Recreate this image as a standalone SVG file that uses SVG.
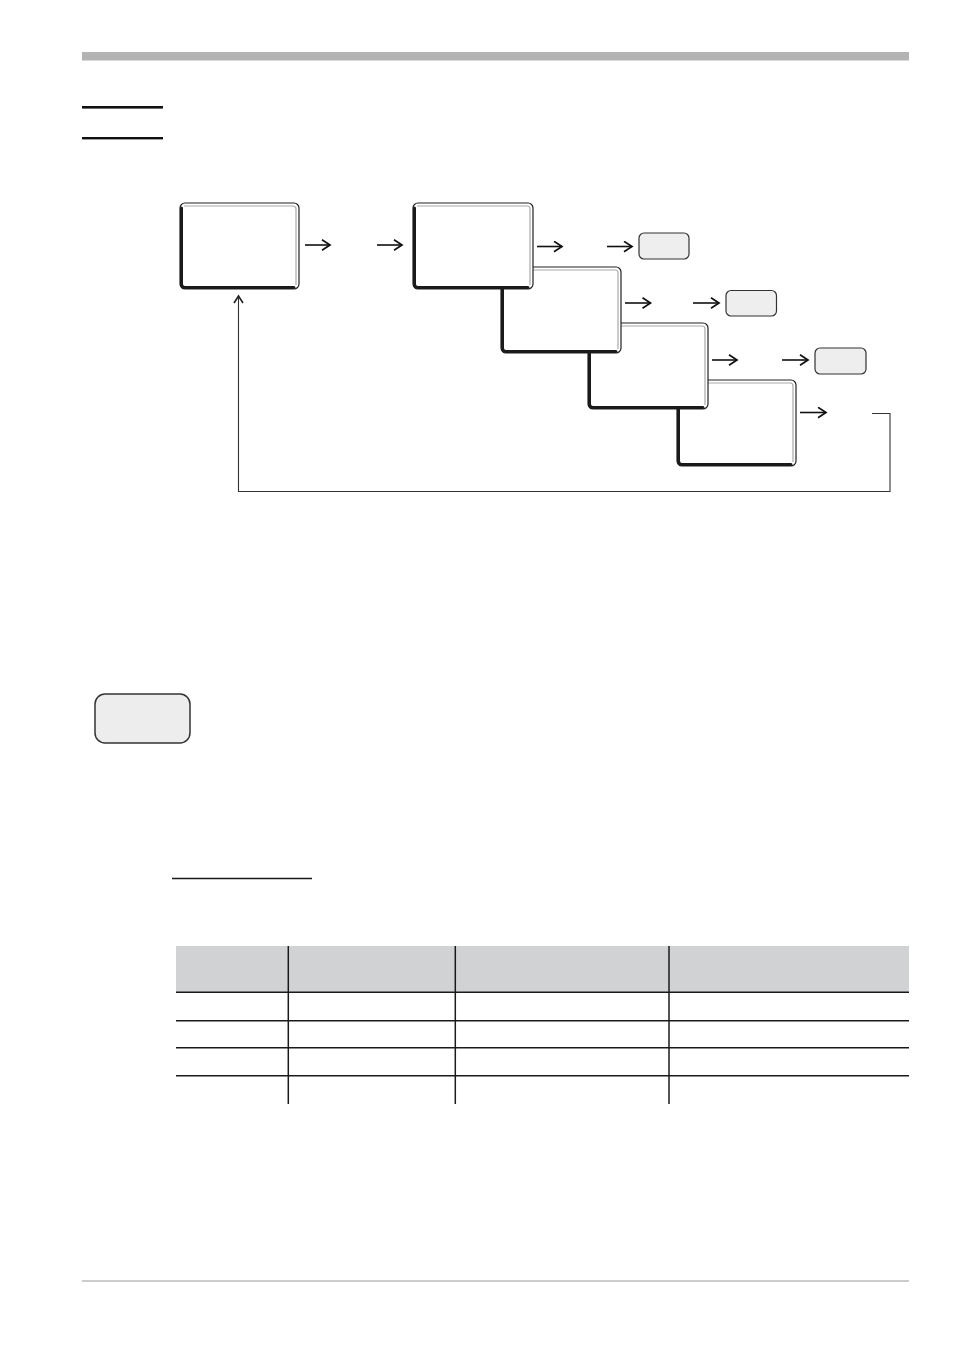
<svg xmlns="http://www.w3.org/2000/svg" width="954" height="1350" viewBox="0 0 954 1350">
<style>
.outer{fill:#fff;stroke:#222;stroke-width:1.2}
.thick{fill:none;stroke:#1a1a1a;stroke-width:3;stroke-linecap:round}
.inner{fill:none;stroke:#aaa;stroke-width:1.2}
.small{fill:#eeeeee;stroke:#333;stroke-width:1.2}
.arr{fill:none;stroke:#111;stroke-width:1.6;marker-end:url(#ah)}
.fb{fill:none;stroke:#333;stroke-width:1.1}
.tl{stroke:#1a1a1a;stroke-width:1.5}
</style>
<defs>
<marker id="ah" markerUnits="userSpaceOnUse" markerWidth="14" markerHeight="14" refX="9" refY="6" orient="auto">
<path d="M1,0.8 L9,6 L1,11.2" fill="none" stroke="#111" stroke-width="1.7"/>
</marker>
<marker id="ahup" markerUnits="userSpaceOnUse" markerWidth="14" markerHeight="14" refX="8" refY="5.5" orient="auto">
<path d="M1,1 L8,5.5 L1,10" fill="none" stroke="#222" stroke-width="1.6"/>
</marker>
</defs>
<rect x="82" y="52" width="827" height="8.5" fill="#b3b3b3"/>
<rect x="82" y="106" width="81" height="2.6" fill="#111"/>
<rect x="82" y="137" width="81" height="2.4" fill="#111"/>
<rect x="82" y="1280" width="827" height="2" fill="#cccccc"/>

<g id="box1">
<rect class="outer" x="180" y="203" width="119" height="86" rx="5"/>
<path class="inner" d="M184 206 H293 Q296 206 296 209 V285"/>
<path class="thick" d="M181.5 208 V284 Q181.5 287.5 185 287.5 H294"/>
</g>
<g id="box5">
<rect class="outer" x="677" y="380" width="119" height="86" rx="5"/>
<path class="inner" d="M681 383 H790 Q793 383 793 386 V462"/>
<path class="thick" d="M678.5 385 V461 Q678.5 464.5 682 464.5 H791"/>
</g>
<g id="box4">
<rect class="outer" x="588" y="323" width="120" height="86" rx="5"/>
<path class="inner" d="M592 326 H702 Q705 326 705 329 V405"/>
<path class="thick" d="M589.5 328 V404 Q589.5 407.5 593 407.5 H703"/>
</g>
<g id="box3">
<rect class="outer" x="501" y="267" width="120" height="86" rx="5"/>
<path class="inner" d="M505 270 H615 Q618 270 618 273 V349"/>
<path class="thick" d="M502.5 272 V348 Q502.5 351.5 506 351.5 H616"/>
</g>
<g id="box2">
<rect class="outer" x="413" y="203" width="120" height="86" rx="5"/>
<path class="inner" d="M417 206 H527 Q530 206 530 209 V285"/>
<path class="thick" d="M414.5 208 V284 Q414.5 287.5 418 287.5 H528"/>
</g>

<g id="end1"><rect class="small" x="639" y="233" width="50" height="26" rx="5"/></g>
<g id="end2"><rect class="small" x="726" y="290.5" width="50.5" height="25.5" rx="5"/></g>
<g id="end3"><rect class="small" x="815" y="348" width="51" height="26" rx="5"/></g>

<g id="button">
<rect x="95" y="694" width="95" height="49" rx="10" fill="#ededed" stroke="#333" stroke-width="1.5"/>
</g>

<g id="connectors">
<path class="arr" d="M305 245 H330"/>
<path class="arr" d="M377 245 H402"/>
<path class="arr" d="M537 246.5 H562"/>
<path class="arr" d="M607 246.5 H632"/>
<path class="arr" d="M625 303 H650.5"/>
<path class="arr" d="M693 303 H719"/>
<path class="arr" d="M712 360 H737"/>
<path class="arr" d="M782 360 H808"/>
<path class="arr" d="M800 412.5 H826"/>
<path class="fb" d="M872 413.5 H890 V491.5 H238.5 V296" marker-end="url(#ahup)"/>
</g>

<g id="table">
<line class="tl" x1="172" y1="878.5" x2="312" y2="878.5"/>
<rect x="176" y="946" width="733" height="46.3" fill="#d1d2d4"/>
<line class="tl" x1="176" y1="992.3" x2="909" y2="992.3"/>
<line class="tl" x1="176" y1="1020.7" x2="909" y2="1020.7"/>
<line class="tl" x1="176" y1="1047.7" x2="909" y2="1047.7"/>
<line class="tl" x1="176" y1="1075.7" x2="909" y2="1075.7"/>
<line class="tl" x1="288.3" y1="946" x2="288.3" y2="1104"/>
<line class="tl" x1="455.3" y1="946" x2="455.3" y2="1104"/>
<line class="tl" x1="669" y1="946" x2="669" y2="1104"/>
</g>
</svg>
